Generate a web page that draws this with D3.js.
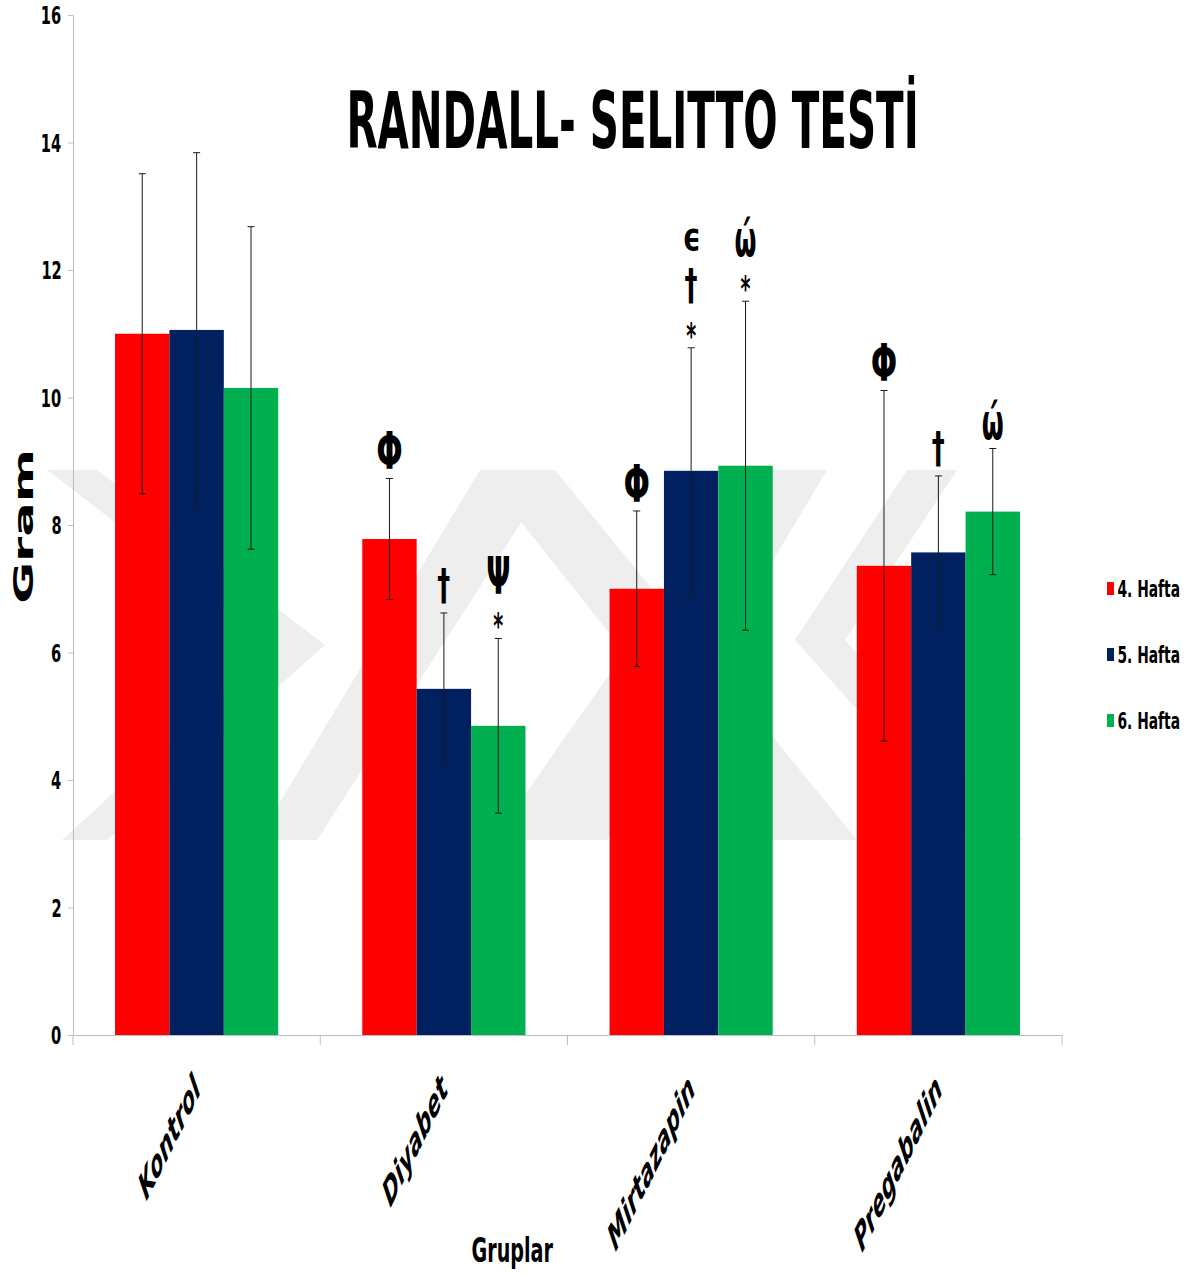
<!DOCTYPE html>
<html><head><meta charset="utf-8">
<script src="https://cdn.jsdelivr.net/npm/d3@7"></script>
<style>html,body{margin:0;padding:0;background:#fff}</style>
</head><body>
<svg id="chart" width="1190" height="1276"></svg>
<script>
// ---------- data ----------
const categories = ["Kontrol", "Diyabet", "Mirtazapin", "Pregabalin"];
const seriesNames = ["4. Hafta", "5. Hafta", "6. Hafta"];
const hafta4 = [11.0, 7.78, 7.0, 7.36];
const hafta5 = [11.06, 5.43, 8.85, 7.57];
const hafta6 = [10.15, 4.85, 8.93, 8.21];
const sd4 = [2.51, 0.95, 1.22, 2.75];
const sd5 = [2.78, 1.19, 1.93, 1.2];
const sd6 = [2.53, 1.37, 2.58, 0.99];
// significance marks, listed top to bottom
const marks4 = [[], ["Φ"], ["Φ"], ["Φ"]];
const marks5 = [[], ["†"], ["ϵ", "†", "*"], ["†"]];
const marks6 = [[], ["Ψ", "*"], ["ώ", "*"], ["ώ"]];
const yTicks = [0, 2, 4, 6, 8, 10, 12, 14, 16];
const titleText = "RANDALL- SELITTO TESTİ";
const yTitle = "Gram";
const xTitle = "Gruplar";

// ---------- style ----------
const colors = ["#FF0000", "#002060", "#00B050"];
const axisColor = "#bdbdbd";
const bold = {family: '"DejaVu Sans"', weight: "bold", style: "normal"};
const boldItalic = {family: '"DejaVu Sans"', weight: "bold", style: "italic"};
const glyphBox = { "Φ": [37, 24], "†": [36, 12], "Ψ": [38, 22], "ϵ": [22, 14], "ώ": [41, 20], "*": [17, 10] };

const svg = d3.select("#chart");
const ctx = document.createElement("canvas").getContext("2d");
function ink(str, font, fs) {
  ctx.font = `${font.style} ${font.weight} ${fs}px ${font.family}`;
  const m = ctx.measureText(str);
  return {l: m.actualBoundingBoxLeft, r: m.actualBoundingBoxRight, a: m.actualBoundingBoxAscent, d: m.actualBoundingBoxDescent};
}
function fit(str, font, h, w, refStr) {
  const m = ink(refStr || str, font, 100);
  const fs = 100 * h / (m.a + m.d);
  let sx = 1;
  if (w) { const mm = ink(str, font, fs); sx = w / (mm.l + mm.r); }
  return {fs, sx};
}
function place(parent, str, font, f, pos) {
  const m = ink(str, font, f.fs);
  const inkW = (m.l + m.r) * f.sx;
  let left;
  if (pos.x0 != null) left = pos.x0; else if (pos.x1 != null) left = pos.x1 - inkW; else left = pos.cx - inkW / 2;
  const tx = left + m.l * f.sx;
  let by;
  if (pos.base != null) by = pos.base; else if (pos.y1 != null) by = pos.y1 - m.d; else by = pos.cy + (m.a - m.d) / 2;
  return parent.append("text")
    .attr("transform", `translate(${tx},${by}) scale(${f.sx},1)`)
    .style("font-family", font.family).style("font-weight", font.weight)
    .style("font-style", font.style).style("font-size", f.fs + "px")
    .attr("fill", "#000").text(str);
}

// ---------- watermark (decorative) ----------
const wm = svg.append("g").attr("fill", "#eeeeee");
const wmShapes = [
  [[47,470],[97,470],[325,645],[107,840],[62,840],[275,645]],
  [[257,840],[317,840],[555,470],[480,470]],
  [[480,470],[555,470],[857,840],[773,840]],
  [[753,470],[827,470],[607,840],[493,840]],
  [[907,470],[957,470],[845,640],[1023,840],[973,840],[795,640]]
];
wmShapes.forEach(p => wm.append("polygon").attr("points", p.map(q => q.join(",")).join(" ")));

// ---------- scales ----------
const y = d3.scaleLinear().domain([0, 16]).range([1035, 15]);
const x0 = d3.scaleBand().domain(categories).range([73, 1062]).paddingInner(0.34).paddingOuter(0.17);
const x1 = d3.scaleBand().domain(seriesNames).range([0, x0.bandwidth()]);

const values = [hafta4, hafta5, hafta6];
const sds = [sd4, sd5, sd6];
const marks = [marks4, marks5, marks6];
const rows = [];
seriesNames.forEach((s, si) => categories.forEach((c, ci) => rows.push({c, s, si, v: values[si][ci], sd: sds[si][ci], mk: marks[si][ci]})));

// ---------- axes ----------
const yAxis = svg.append("g").attr("transform", "translate(73,0)")
  .call(d3.axisLeft(y).tickValues(yTicks).tickSize(5).tickSizeOuter(0).tickFormat(""));
yAxis.selectAll("path,line").attr("stroke", axisColor);
svg.append("line").attr("x1", 73).attr("x2", 73).attr("y1", y(0)).attr("y2", y(0) + 10).attr("stroke", axisColor);

const xAxis = svg.append("g").attr("transform", `translate(0,${y(0)})`)
  .call(d3.axisBottom(x0).tickSize(0).tickSizeOuter(0).tickFormat(""));
xAxis.selectAll("path").attr("stroke", axisColor);
const bounds = d3.range(categories.length + 1).map(i => x0.range()[0] + i * x0.step());
svg.append("g").selectAll("line").data(bounds.slice(1)).join("line")
  .attr("x1", d => d).attr("x2", d => d).attr("y1", y(0)).attr("y2", y(0) + 10).attr("stroke", axisColor);

// tick labels
const tf = fit("16", bold, 19, 19);
const tl = svg.append("g");
yTicks.forEach(t => place(tl, String(t), bold, tf, {x1: 61, cy: y(t)}));

// ---------- bars ----------
svg.append("g").selectAll("rect").data(rows).join("rect")
  .attr("x", d => x0(d.c) + x1(d.s))
  .attr("y", d => y(d.v))
  .attr("width", x1.bandwidth())
  .attr("height", d => y(0) - y(d.v))
  .attr("fill", d => colors[d.si]);

// ---------- error bars ----------
const eb = svg.append("g").attr("stroke", "#1a1a1a").attr("stroke-width", 1);
rows.forEach(d => {
  const cx = x0(d.c) + x1(d.s) + x1.bandwidth() / 2;
  eb.append("line").attr("x1", cx).attr("x2", cx).attr("y1", y(d.v - d.sd)).attr("y2", y(d.v + d.sd));
  [d.v - d.sd, d.v + d.sd].forEach(e => eb.append("line").attr("x1", cx - 3.5).attr("x2", cx + 3.5).attr("y1", y(e)).attr("y2", y(e)));
});

// ---------- significance marks ----------
const mg = svg.append("g");
rows.forEach(d => {
  if (!d.mk.length) return;
  const cx = x0(d.c) + x1(d.s) + x1.bandwidth() / 2;
  let bottom = y(d.v + d.sd) - 9;
  d.mk.slice().reverse().forEach(sym => {
    const [h, w] = glyphBox[sym];
    const f = fit(sym, bold, h, w);
    place(mg, sym, bold, f, {cx, y1: bottom});
    bottom -= h + (sym === "*" ? 18 : sym === "†" ? 17 : 11);
  });
});

// ---------- category labels ----------
categories.forEach(c => {
  const cx = x0(c) + x0.bandwidth() / 2;
  svg.append("text")
    .attr("transform", `translate(${cx + 5},1091) scale(1,2) rotate(-45)`)
    .attr("text-anchor", "end")
    .style("font-family", boldItalic.family).style("font-weight", "bold").style("font-style", "italic")
    .style("font-size", "19px").text(c);
});

// ---------- titles ----------
place(svg, titleText, bold, fit(titleText, bold, 58, 565, "RANDALL"), {x0: 350, base: 148});
place(svg, xTitle, bold, fit(xTitle, bold, 25, 81, "H"), {x0: 472, base: 1262});
const gy = svg.append("g").attr("transform", "translate(33,527) rotate(-90)");
place(gy, yTitle, bold, fit(yTitle, bold, 20, 150, "H"), {cx: 0, base: 0});

// ---------- legend ----------
const lf = fit("4. Hafta", bold, 17, 61, "H");
seriesNames.forEach((s, i) => {
  const base = 597 + i * 66;
  svg.append("rect").attr("x", 1107).attr("y", base - 15).attr("width", 7).attr("height", 13).attr("fill", colors[i]);
  place(svg, s, bold, lf, {x0: 1118, base});
});
</script>
</body></html>
